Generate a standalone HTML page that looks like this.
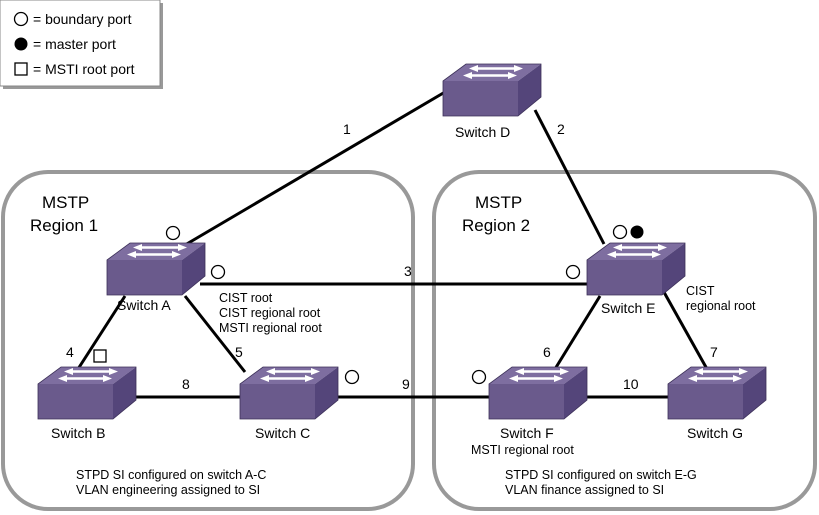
<!DOCTYPE html>
<html><head><meta charset="utf-8"><style>
body{margin:0;background:#fff;}
svg{display:block;font-family:"Liberation Sans",sans-serif;}
</style></head><body>
<svg width="819" height="515" viewBox="0 0 819 515">
<defs>
<g id="sw">
<polygon points="0,17 23,0 98,0 75,17" fill="#7e6ea0"/>
<rect x="0" y="17" width="75" height="35" fill="#6a5a8c"/>
<polygon points="75,17 98,0 98,33 75,52" fill="#54457a"/>
<polygon points="0,17 23,0 98,0 98,33 75,52 0,52" fill="none" stroke="#3c3058" stroke-width="0.8"/>
<g fill="#fff" stroke="#fff" stroke-width="2.6">
<line x1="34" y1="4.5" x2="72" y2="4.5"/>
<line x1="28" y1="11.5" x2="66" y2="11.5"/>
<polygon points="71,1 80,4.5 71,8" stroke-width="0"/>
<polygon points="35,1 26,4.5 35,8" stroke-width="0"/>
<polygon points="65,8 74,11.5 65,15" stroke-width="0"/>
<polygon points="29,8 20,11.5 29,15" stroke-width="0"/>
</g>
</g>
</defs>
<!-- legend -->
<rect x="3" y="3" width="160" height="86" fill="#999"/>
<rect x="0" y="0" width="160" height="86" fill="#fff" stroke="#888" stroke-width="1"/>
<circle cx="21" cy="19" r="6.5" fill="#fff" stroke="#000" stroke-width="1.3"/>
<text x="33" y="24" font-size="14">= boundary port</text>
<circle cx="21" cy="44" r="6.5" fill="#000"/>
<text x="33" y="49" font-size="14">= master port</text>
<rect x="15" y="63" width="12" height="12" fill="#fff" stroke="#000" stroke-width="1.3"/>
<text x="33" y="74" font-size="14">= MSTI root port</text>
<!-- regions -->
<rect x="3" y="172" width="410" height="337" rx="45" fill="none" stroke="#999" stroke-width="4"/>
<rect x="434" y="172" width="381" height="337" rx="45" fill="none" stroke="#999" stroke-width="4"/>
<!-- links -->
<g stroke="#000" stroke-width="3">
<line x1="185" y1="245" x2="445" y2="92"/>
<line x1="535" y1="110" x2="604" y2="244"/>
<line x1="200" y1="284" x2="590" y2="284"/>
<line x1="125" y1="296" x2="78" y2="369"/>
<line x1="185" y1="296" x2="245" y2="372"/>
<line x1="130" y1="397" x2="245" y2="397"/>
<line x1="330" y1="397" x2="490" y2="397"/>
<line x1="600" y1="296" x2="555" y2="369"/>
<line x1="660" y1="285" x2="707" y2="369"/>
<line x1="580" y1="397" x2="670" y2="397"/>
</g>
<!-- switches -->
<use href="#sw" x="443" y="64"/>
<use href="#sw" x="107" y="243"/>
<use href="#sw" x="587" y="243"/>
<use href="#sw" x="38" y="367"/>
<use href="#sw" x="240" y="367"/>
<use href="#sw" x="489" y="367"/>
<use href="#sw" x="668" y="367"/>
<!-- ports -->
<g fill="#fff" stroke="#000" stroke-width="1.3">
<circle cx="173" cy="233" r="6.5"/>
<circle cx="218" cy="272" r="6.5"/>
<circle cx="573" cy="272" r="6.5"/>
<circle cx="620" cy="232" r="6.5"/>
<circle cx="352" cy="377" r="6.5"/>
<circle cx="479" cy="377" r="6.5"/>
<rect x="94" y="350" width="12" height="12"/>
</g>
<circle cx="637" cy="232" r="6.5" fill="#000"/>
<!-- labels -->
<g font-size="14">
<text x="455" y="137">Switch D</text>
<text x="117" y="310">Switch A</text>
<text x="601" y="313">Switch E</text>
<text x="51" y="438">Switch B</text>
<text x="255" y="438">Switch C</text>
<text x="500" y="438">Switch F</text>
<text x="687" y="438">Switch G</text>
<text x="343" y="134">1</text>
<text x="557" y="134">2</text>
<text x="404" y="276">3</text>
<text x="66" y="357">4</text>
<text x="235" y="357">5</text>
<text x="543" y="357">6</text>
<text x="710" y="357">7</text>
<text x="182" y="389">8</text>
<text x="402" y="389">9</text>
<text x="623" y="389">10</text>
</g>
<g font-size="12.5">
<text x="219" y="302">CIST root</text>
<text x="219" y="317">CIST regional root</text>
<text x="219" y="332">MSTI regional root</text>
<text x="686" y="295">CIST</text>
<text x="686" y="310">regional root</text>
<text x="471" y="454">MSTI regional root</text>
<text x="76" y="479">STPD SI configured on switch A-C</text>
<text x="76" y="494">VLAN engineering assigned to SI</text>
<text x="505" y="479">STPD SI configured on switch E-G</text>
<text x="505" y="494">VLAN finance assigned to SI</text>
</g>
<g font-size="17">
<text x="42" y="208">MSTP</text>
<text x="30" y="231">Region 1</text>
<text x="475" y="208">MSTP</text>
<text x="462" y="231">Region 2</text>
</g>
</svg>
</body></html>
